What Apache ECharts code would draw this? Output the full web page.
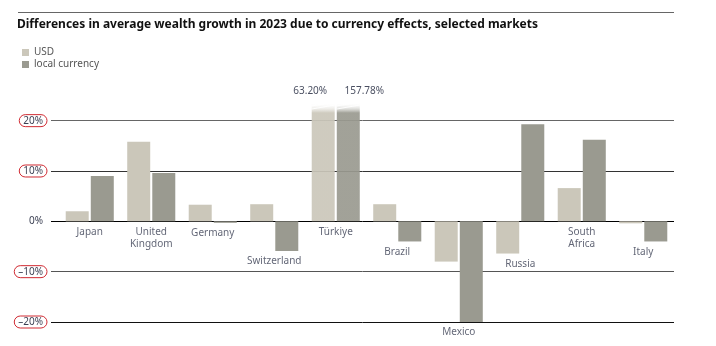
<!DOCTYPE html>
<html>
<head>
<meta charset="utf-8">
<script src="https://cdn.jsdelivr.net/npm/echarts@6/dist/echarts.min.js"></script>
<style>html,body{margin:0;padding:0;background:#fff}#c{width:716px;height:346px}</style>
</head>
<body>
<div id="c"></div>
<script>
const categories = ['Japan','United\nKingdom','Germany','Switzerland','Türkiye','Brazil','Mexico','Russia','South\nAfrica','Italy'];
const usdValues = [2.0, 15.8, 3.3, 3.4, 63.20, 3.4, -8.0, -6.4, 6.6, -0.4];
const localValues = [9.0, 9.6, -0.3, -5.9, 157.78, -4.0, -20.0, 19.3, 16.2, -4.0];
const yTicks = [-20, -10, 0, 10, 20];
const seriesNames = ['USD', 'local currency'];

const FONT = 'Noto Sans';
const usdColor = '#cbc7ba';
const localColor = '#9a9a90';
const yMin = -20, yMax = 24.5;

function fade(c) {
  return {type:'linear', x:0, y:0, x2:0, y2:1, colorStops:[
    {offset:0, color:'rgba(255,255,255,0)'},
    {offset:0.04, color:'rgba(255,255,255,0)'},
    {offset:0.12, color:c},
    {offset:1, color:c}]};
}
function buildData(vals, color, offX) {
  return vals.map(v => {
    if (v > yMax) {
      return {value:v, itemStyle:{color:fade(color), opacity:0.92},
        label:{show:true, position:'top', distance:2, offset:[offX,0],
          formatter: p => p.value.toFixed(2) + '%'}};
    }
    return v;
  });
}

const chart = echarts.init(document.getElementById('c'), null, {renderer:'canvas'});
const option = {
  animation:false,
  textStyle:{fontFamily:FONT},
  grid:[
    {left:51, right:42, top:98, bottom:24},
    {left:59, right:42, top:98, bottom:24}
  ],
  legend:{
    data:seriesNames, orient:'vertical', left:17, top:42, itemWidth:7, itemHeight:7,
    itemGap:1, icon:'rect', textStyle:{fontFamily:FONT, fontSize:10, color:'#555', lineHeight:11}
  },
  xAxis:[
    {gridIndex:0, type:'category', data:categories, show:false},
    {gridIndex:1, type:'category', data:categories, boundaryGap:true,
      axisLine:{show:false}, axisTick:{show:false}, axisLabel:{show:false}}
  ],
  yAxis:[
    {gridIndex:0, type:'value', min:yMin, max:yMax, interval:10,
      axisLine:{show:false}, axisTick:{show:false},
      splitLine:{show:true, showMaxLine:false, lineStyle:{width:1, color:['#111','#555','#000','#333','#666']}},
      axisLabel:{margin:4, showMaxLabel:false,
        formatter: v => yTicks.indexOf(v) < 0 ? '' : (v === 0 ? '{z|0%}' : '{b|' + (v < 0 ? '–' : '') + Math.abs(v) + '%}'),
        rich:{
          b:{fontFamily:FONT, fontSize:10, color:'#3a3f52', borderColor:'#d02a32', borderWidth:1,
             borderRadius:6, padding:[1,4,0,4], height:11, lineHeight:11, verticalAlign:'middle'},
          z:{fontFamily:FONT, fontSize:10, color:'#3a3f52', padding:[0,4,0,0]}
        }}},
    {gridIndex:1, type:'value', min:yMin, max:yMax, interval:10, show:false, splitLine:{show:false}}
  ],
  series:[
    {name:seriesNames[0], type:'bar', xAxisIndex:1, yAxisIndex:1, barWidth:23, barGap:'9%',
      itemStyle:{color:usdColor}, data:buildData(usdValues, usdColor, -13),
      label:{color:'#3a3f52', fontSize:10, fontFamily:FONT}},
    {name:seriesNames[1], type:'bar', xAxisIndex:1, yAxisIndex:1, barWidth:23, barGap:'9%',
      itemStyle:{color:localColor}, data:buildData(localValues, localColor, 16),
      label:{color:'#3a3f52', fontSize:10, fontFamily:FONT}},
    {name:'labels', type:'scatter', xAxisIndex:1, yAxisIndex:1, symbolSize:1, clip:false,
      itemStyle:{color:'rgba(0,0,0,0)'}, silent:true,
      data: categories.map((c,i) => ({name:c, value:[i, Math.min(0, usdValues[i], localValues[i])]})),
      label:{show:true, position:'bottom', distance:4, formatter:'{b}', fontFamily:FONT,
        fontSize:10, color:'#3a3f52', lineHeight:12}}
  ],
  graphic:[
    {type:'line', shape:{x1:18, y1:12.5, x2:674, y2:12.5}, style:{stroke:'#666', lineWidth:1}},
    {type:'text', left:17, top:19, style:{text:'Differences in average wealth growth in 2023 due to currency effects, selected markets',
      font:'bold 12px "Noto Sans"', fill:'#111'}}
  ]
};
chart.setOption(option);

// break marks on truncated bars
const extra = [];
usdValues.forEach((v,i) => {
  [[usdValues[i], -12.5],[localValues[i], 12.5]].forEach(([val, off]) => {
    if (val > yMax) {
      const p = chart.convertToPixel({xAxisIndex:1, yAxisIndex:1}, [i, yMax]);
      const x0 = p[0] + off - 11.5, x1 = p[0] + off + 11.5, y = p[1];
      extra.push({type:'line', shape:{x1:x0, y1:y+8, x2:x1, y2:y+4}, style:{stroke:'rgba(255,255,255,0.9)', lineWidth:1}, z:10});
      extra.push({type:'line', shape:{x1:x0, y1:y+11, x2:x1, y2:y+7}, style:{stroke:'rgba(255,255,255,0.9)', lineWidth:1}, z:10});
    }
  });
});
chart.setOption({graphic: option.graphic.concat(extra)});
</script>
</body>
</html>
